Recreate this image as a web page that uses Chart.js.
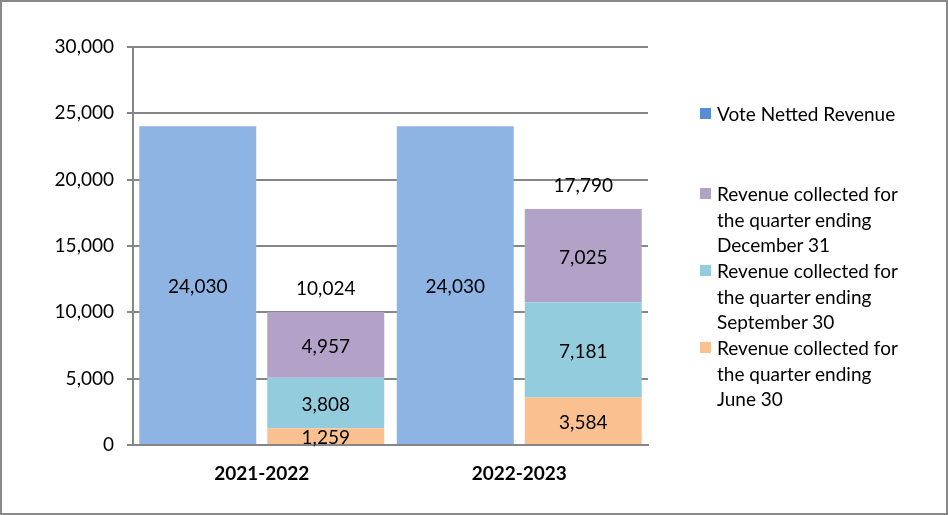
<!DOCTYPE html>
<html>
<head>
<meta charset="utf-8">
<script src="https://cdn.jsdelivr.net/npm/chart.js@4"></script>
<style>
  html, body { margin: 0; padding: 0; background: #fff; }
  #wrap { position: relative; width: 948px; height: 515px; }
  #legend { position: absolute; left: 0; top: 0; font: 19px Lato, sans-serif; color: #000; }
  .item { position: absolute; left: 700px; width: 240px; line-height: 25.5px; }
  .sw { position: absolute; left: 0; top: 7px; width: 11px; height: 11px; }
  .txt { margin-left: 17px; white-space: nowrap; }
</style>
</head>
<body>
<div id="wrap">
  <canvas id="chart" width="948" height="515"></canvas>
  <div id="legend"></div>
</div>
<script>
// data
const categories = ['2021-2022', '2022-2023']
const voteNetted = [24030, 24030]
const juneQuarter = [1259, 3584]
const septQuarter = [3808, 7181]
const decQuarter = [4957, 7025]

const fmt = v => v.toLocaleString('en-US')

// legend (html, so labels can wrap like the original)
const legendItems = [
  { text: 'Vote Netted Revenue', color: '#558ED5', top: 101 },
  { text: 'Revenue collected for<br>the quarter ending<br>December 31', color: '#B3A2C7', top: 181 },
  { text: 'Revenue collected for<br>the quarter ending<br>September 30', color: '#93CDDD', top: 258 },
  { text: 'Revenue collected for<br>the quarter ending<br>June 30', color: '#FAC090', top: 335 },
]
document.getElementById('legend').innerHTML = legendItems.map(it =>
  `<div class="item" style="top:${it.top}px"><span class="sw" style="background:${it.color}"></span><div class="txt">${it.text}</div></div>`
).join('')

// value labels inside bars + stack totals
const valueLabels = {
  id: 'valueLabels',
  afterDatasetsDraw(chart) {
    const ctx = chart.ctx
    ctx.save()
    ctx.font = '19px Lato, sans-serif'
    ctx.fillStyle = '#000'
    ctx.textAlign = 'center'
    ctx.textBaseline = 'middle'
    chart.data.datasets.forEach((ds, i) => {
      chart.getDatasetMeta(i).data.forEach((bar, j) => {
        ctx.fillText(fmt(ds.data[j]), bar.x, (bar.y + bar.base) / 2 + 2)
      })
    })
    // totals above the quarterly stack
    const topMeta = chart.getDatasetMeta(chart.data.datasets.length - 1)
    topMeta.data.forEach((bar, j) => {
      const total = juneQuarter[j] + septQuarter[j] + decQuarter[j]
      ctx.fillText(fmt(total), bar.x, bar.y - 23)
    })
    ctx.restore()
  },
}

// grey frame round the whole picture
const frame = {
  id: 'frame',
  afterDraw(chart) {
    const ctx = chart.ctx
    ctx.save()
    ctx.strokeStyle = '#888'
    ctx.lineWidth = 2
    ctx.strokeRect(1, 1, chart.width - 2, chart.height - 2)
    ctx.restore()
  },
}

const gridGrey = '#868686'

new Chart(document.getElementById('chart'), {
  type: 'bar',
  data: {
    labels: categories,
    datasets: [
      { label: 'Vote Netted Revenue', data: voteNetted, backgroundColor: '#8EB4E3', stack: 'vote' },
      { label: 'Revenue collected for the quarter ending June 30', data: juneQuarter, backgroundColor: '#FAC090', stack: 'quarters' },
      { label: 'Revenue collected for the quarter ending September 30', data: septQuarter, backgroundColor: '#93CDDD', stack: 'quarters' },
      { label: 'Revenue collected for the quarter ending December 31', data: decQuarter, backgroundColor: '#B3A2C7', stack: 'quarters' },
    ],
  },
  options: {
    responsive: false,
    animation: false,
    categoryPercentage: 0.994,
    barPercentage: 0.914,
    layout: { padding: { top: 47, right: 300, bottom: 0, left: 0 } },
    plugins: {
      legend: { display: false },
      tooltip: { enabled: false },
    },
    scales: {
      x: {
        stacked: true,
        grid: { display: false },
        border: { color: gridGrey, width: 2 },
        ticks: { color: '#000', font: { family: 'Lato', size: 19, weight: 'bold' }, padding: 9 },
        afterFit(scale) { scale.height = 70 },
      },
      y: {
        stacked: true,
        min: 0,
        max: 30000,
        ticks: { stepSize: 5000, color: '#000', font: { family: 'Lato', size: 19 }, padding: 13, callback: v => fmt(v) },
        grid: { color: gridGrey, lineWidth: 2, tickLength: 6 },
        border: { color: gridGrey, width: 2 },
        afterFit(scale) { scale.width = 133 },
      },
    },
  },
  plugins: [valueLabels, frame],
})
</script>
</body>
</html>
